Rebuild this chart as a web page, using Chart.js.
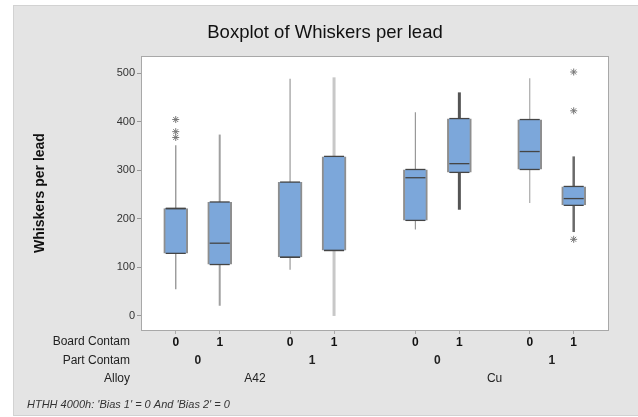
<!DOCTYPE html>
<html>
<head>
<meta charset="utf-8">
<script src="https://cdn.jsdelivr.net/npm/chart.js@4"></script>
<style>
  html, body { margin: 0; padding: 0; background: #fff; }
</style>
</head>
<body>
<canvas id="chart" width="638" height="417"></canvas>
<script>
(function () {
  'use strict';

  // --- Data ---
  const boardContam = ['0', '1', '0', '1', '0', '1', '0', '1'];
  const partContam = ['0', '1', '0', '1'];
  const alloys = ['A42', 'Cu'];

  const whiskerLow  = [55, 21, 95, 0, 178, 219, 233, 173];
  const q1          = [129, 106, 121, 135, 197, 296, 302, 228];
  const medians     = [221, 150, 121, 135, 285, 314, 339, 242];
  const q3          = [222, 235, 276, 329, 302, 407, 405, 267];
  const whiskerHigh = [352, 374, 489, 492, 420, 461, 490, 329];
  const outliers    = [[405, 380, 368], [], [], [], [], [], [], [503, 423, 158]];

  const yTicks = [0, 100, 200, 300, 400, 500];

  // --- Styles ---
  const whiskerWidth = [1.4, 2, 1.2, 3, 1.2, 3, 1.2, 2.5];
  const whiskerColor = ['#999', '#a0a0a0', '#999', '#c8c8c8', '#999', '#555', '#aaa', '#6a6a6a'];
  const FONT = '"Liberation Sans", Arial, sans-serif';
  Chart.defaults.font.family = FONT;

  // slot of each box: pairs, wider gap between part groups, a bit more between alloys
  const slot = boardContam.map((_, i) => i + 0.6 * Math.floor(i / 2) + 0.25 * Math.floor(i / 4));

  const whiskerSets = slot.map((x, i) => ({
    type: 'line',
    data: [{ x, y: whiskerLow[i] }, { x, y: whiskerHigh[i] }],
    borderColor: whiskerColor[i],
    borderWidth: whiskerWidth[i],
    pointRadius: 0,
    fill: false,
    order: 3
  }));

  const edgePoints = [];
  slot.forEach((x, i) => {
    edgePoints.push({ x, y: q1[i] }, { x, y: q3[i] }, { x, y: medians[i] });
  });

  const outlierPoints = [];
  slot.forEach((x, i) => outliers[i].forEach(y => outlierPoints.push({ x, y })));

  const background = {
    id: 'background',
    beforeDraw(chart) {
      const { ctx, chartArea: a } = chart;
      ctx.save();
      ctx.fillStyle = '#fff';
      ctx.fillRect(0, 0, chart.width, chart.height);
      ctx.fillStyle = '#e4e4e4';
      ctx.fillRect(13, 5, chart.width - 13, 410);
      ctx.strokeStyle = '#d2d2d2';
      ctx.strokeRect(13.5, 5.5, chart.width - 13, 410);
      ctx.fillStyle = '#fff';
      ctx.fillRect(a.left, a.top, a.right - a.left, a.bottom - a.top);
      ctx.restore();
    },
    afterDraw(chart) {
      const { ctx, chartArea: a } = chart;
      const xs = chart.scales.x;
      ctx.save();
      ctx.strokeStyle = '#a8a8a8';
      ctx.lineWidth = 1;
      ctx.strokeRect(a.left + 0.5, a.top + 0.5, a.right - a.left, a.bottom - a.top);

      ctx.fillStyle = '#111';
      ctx.textBaseline = 'middle';
      ctx.textAlign = 'center';
      ctx.font = '18.5px ' + FONT;
      ctx.fillText('Boxplot of Whiskers per lead', 325, 33);

      ctx.fillStyle = '#222';
      ctx.textAlign = 'right';
      ctx.font = '12px ' + FONT;
      ctx.fillText('Board Contam', 130, 342);
      ctx.fillText('Part Contam', 130, 361);
      ctx.fillText('Alloy', 130, 379);

      ctx.textAlign = 'center';
      ctx.font = 'bold 12px ' + FONT;
      partContam.forEach((t, k) => {
        const mid = (slot[2 * k] + slot[2 * k + 1]) / 2;
        ctx.fillText(t, xs.getPixelForValue(mid), 361);
      });
      ctx.font = '12px ' + FONT;
      alloys.forEach((t, k) => {
        const mid = (slot[4 * k] + slot[4 * k + 3]) / 2;
        ctx.fillText(t, xs.getPixelForValue(mid), 379);
      });

      ctx.textAlign = 'left';
      ctx.font = 'italic 11px ' + FONT;
      ctx.fillStyle = '#333';
      ctx.fillText("HTHH 4000h: 'Bias 1' = 0 And 'Bias 2' = 0", 27, 405);
      ctx.restore();
    }
  };

  new Chart(document.getElementById('chart'), {
    type: 'bar',
    data: {
      datasets: [
        ...whiskerSets,
        {
          type: 'bar',
          data: slot.map((x, i) => ({ x, y: [q1[i], q3[i]] })),
          backgroundColor: '#7ca7da',
          borderColor: '#8e8e8e',
          borderWidth: { left: 2, right: 2, top: 0, bottom: 0 },
          borderSkipped: false,
          barThickness: 24,
          grouped: false,
          order: 2
        },
        {
          type: 'scatter',
          data: edgePoints,
          pointStyle: 'line',
          pointRadius: 10,
          borderColor: '#454545',
          borderWidth: 1.3,
          order: 1
        },
        {
          type: 'scatter',
          data: outlierPoints,
          pointStyle: 'star',
          pointRadius: 3.5,
          borderColor: '#777',
          borderWidth: 1,
          order: 1
        }
      ]
    },
    options: {
      responsive: false,
      animation: false,
      events: [],
      layout: { padding: { left: 0, right: 30, top: 56, bottom: 0 } },
      plugins: {
        legend: { display: false },
        tooltip: { enabled: false },
        title: { display: false }
      },
      scales: {
        x: {
          type: 'linear',
          min: -0.79,
          max: 9.83,
          offset: false,
          afterBuildTicks: s => { s.ticks = slot.map(v => ({ value: v })); },
          afterFit: s => { s.height = 87; },
          grid: { offset: false, drawOnChartArea: false, tickLength: 4, color: '#aaa' },
          border: { color: '#a8a8a8' },
          ticks: {
            autoSkip: false,
            maxRotation: 0,
            padding: 1,
            color: '#111',
            font: { size: 12, weight: 'bold' },
            callback: (v, i) => boardContam[i]
          }
        },
        y: {
          min: -29,
          max: 536,
          afterBuildTicks: s => { s.ticks = yTicks.map(v => ({ value: v })); },
          afterFit: s => { s.width = 141; },
          grid: { drawOnChartArea: false, tickLength: 4, color: '#999' },
          border: { color: '#a8a8a8' },
          ticks: { padding: 2, color: '#333', font: { size: 11 } },
          title: {
            display: true,
            text: 'Whiskers per lead',
            color: '#111',
            font: { size: 14, weight: 'bold' },
            padding: { top: 32, bottom: 0 }
          }
        }
      }
    },
    plugins: [background]
  });
})();
</script>
</body>
</html>
